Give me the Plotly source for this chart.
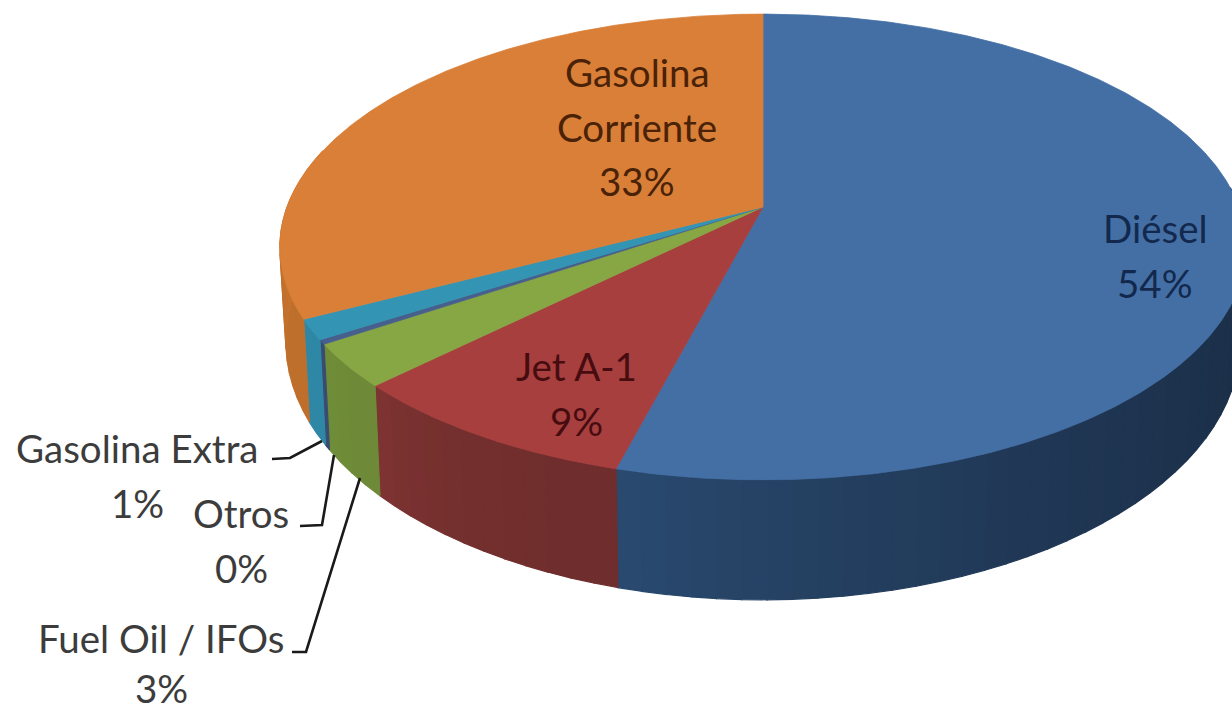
import numpy as np
import plotly.graph_objects as go

# Data (clockwise from 12 o'clock)
categories = ["Diésel", "Jet A-1", "Fuel Oil / IFOs", "Otros", "Gasolina Extra", "Gasolina Corriente"]
values = [54.2, 8.6, 3.0, 0.3, 1.4, 32.6]

# Styles
top_colors = ["#446FA5", "#A63F3D", "#87A644", "#465F8C", "#3394B4", "#D97F37"]
wall_start = ["#1B2E47", "#6F2E2D", "#6E8A38", "#3A4C70", "#2F87A6", "#BF6F2C"]
wall_end = ["#2A4A70", "#7E3432", "#708D3A", "#3A4C70", "#2F87A6", "#D07A33"]

# Camera of the 3D pie (a perspective mapping of the unit disc onto the page)
K = 0.1717
TOP = dict(cx=763, cy=207, bx=476, by=226)
BOTTOM = dict(cx=763, cy=298, bx=470, by=250)


def project(deg, plane):
    t = np.radians(deg)
    X, Y = np.sin(t), np.cos(t)
    w = 1 + K * Y
    return plane["cx"] + plane["bx"] * X / w, plane["cy"] - plane["by"] * Y / w


def rgb(h):
    return np.array([int(h[i:i + 2], 16) for i in (1, 3, 5)], dtype=float)


def mix(a, b, f):
    c = rgb(a) * (1 - f) + rgb(b) * f
    return "rgb(%d,%d,%d)" % tuple(c)


total = sum(values)
edges = np.concatenate([[0], np.cumsum(values)]) * 360 / total

fig = go.Figure()

# Side walls, drawn as shaded strips
for i, name in enumerate(categories):
    a0, a1 = edges[i], edges[i + 1]
    a0f = max(a0, 85.0)
    a1f = min(a1, 285.0)
    if a1f <= a0f:
        continue
    n = max(2, int((a1f - a0f) / 2.5))
    steps = np.linspace(a0f, a1f, n + 1)
    for j in range(n):
        s = np.linspace(steps[j], steps[j + 1], 5)
        tx, ty = project(s, TOP)
        bx, by = project(s[::-1], BOTTOM)
        col = mix(wall_start[i], wall_end[i], ((j + 0.5) / n) ** 2)
        fig.add_trace(go.Scatter(
            x=np.concatenate([tx, bx, tx[:1]]), y=np.concatenate([ty, by, ty[:1]]),
            mode="lines", fill="toself", fillcolor=col,
            line=dict(color=col, width=1.2), hoverinfo="skip", showlegend=False))

# Top face
for i, name in enumerate(categories):
    s = np.linspace(edges[i], edges[i + 1], max(3, int(values[i] * 8)))
    tx, ty = project(s, TOP)
    fig.add_trace(go.Scatter(
        x=np.concatenate([[TOP["cx"]], tx, [TOP["cx"]]]),
        y=np.concatenate([[TOP["cy"]], ty, [TOP["cy"]]]),
        mode="lines", fill="toself", fillcolor=top_colors[i],
        line=dict(color=top_colors[i], width=0.8), name=name, showlegend=False))

# Labels: one annotation per line to keep the reference's line spacing
labels = [
    (0, ["Diésel"], 1155, 228, "#12294D", 54.5),
    (1, ["Jet A-1"], 576, 366, "#470C10", 54.5),
    (5, ["Gasolina", "Corriente"], 637, 72, "#4A2208", 54.5),
    (4, ["Gasolina Extra"], 137, 448, "#3C3C3C", 54.5),
    (3, ["Otros"], 241, 513, "#3C3C3C", 54.5),
    (2, ["Fuel Oil / IFOs"], 161, 638, "#3C3C3C", 50),
]
for idx, lines, x, y, col, gap in labels:
    rows = lines + ["%d%%" % round(values[idx])]
    for r, text in enumerate(rows):
        fig.add_annotation(x=x, y=y + r * gap, text=text, showarrow=False,
                           xref="x", yref="y", xanchor="center", yanchor="middle",
                           font=dict(family="Lato", size=38.5, color=col))

# Leader lines
leaders = ["M272,459 L290,458 L322,441", "M300,526 L322,525 L334,455", "M292,652 L306,652 L360,478"]
shapes = [dict(type="path", path=p, xref="x", yref="y",
               line=dict(color="#1A1A1A", width=2.6)) for p in leaders]

fig.update_layout(
    width=1232, height=710,
    margin=dict(l=0, r=0, t=0, b=0),
    paper_bgcolor="white", plot_bgcolor="white",
    xaxis=dict(range=[0, 1232], visible=False, fixedrange=True),
    yaxis=dict(range=[710, 0], visible=False, fixedrange=True),
    shapes=shapes, showlegend=False,
)
fig.write_html("out.html", config={"displayModeBar": False},
               post_script="document.body.style.margin='0';document.body.style.overflow='hidden';")
